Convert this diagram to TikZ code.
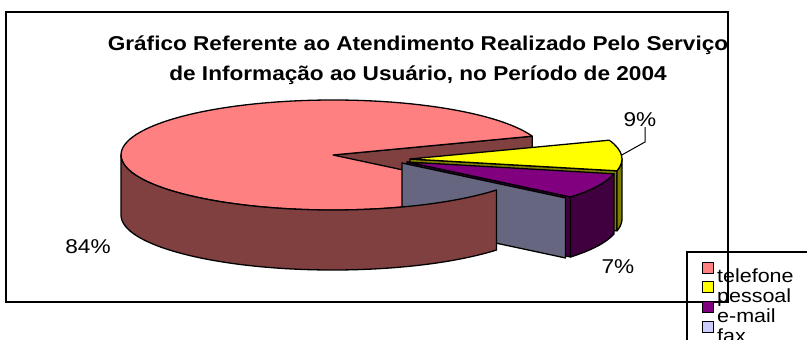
\documentclass[tikz,border=0pt]{standalone}
\usepackage{fontspec}
\setmainfont{Liberation Sans}
\usepackage{xcolor}
\usetikzlibrary{calc,positioning}
\definecolor{telTop}{HTML}{FF8080}
\definecolor{telSide}{HTML}{804040}
\definecolor{pesTop}{HTML}{FFFF00}
\definecolor{pesSide}{HTML}{808000}
\definecolor{emaTop}{HTML}{800080}
\definecolor{emaSide}{HTML}{400040}
\definecolor{faxTop}{HTML}{CCCCFF}
\definecolor{faxSide}{HTML}{666680}
\tikzset{
  slice/.style={draw=black, line width=1.3pt, line join=round},
  rim/.style={x radius=212, y radius=55},
  titletxt/.style={font=\fontsize{20}{24}\selectfont\bfseries, xscale=1.13, inner sep=0pt, anchor=base},
  pcttxt/.style={font=\fontsize{20}{24}\selectfont, xscale=1.13, inner sep=0pt, anchor=base},
  legsq/.style={draw=black, line width=0.9pt, minimum size=11pt, inner sep=0pt},
  legtxt/.style={font=\fontsize{19}{22}\selectfont, xscale=1.13, inner sep=0pt},
  frame/.style={draw=black, line width=1.4pt},
  leader/.style={draw=black, line width=1pt},
}

\begin{document}
\begin{tikzpicture}[x=1pt,y=-1pt]
    \useasboundingbox (0,0) rectangle (807,340);
    \coordinate (CTel) at (333,155);
    \coordinate (CPes) at (410,159);
    \coordinate (CEma) at (407,162);
    \coordinate (CFax) at (402,163);

    % telefone: back cut face and top
    \filldraw[slice, fill=telSide] (CTel) -- ++(340:212 and 55) -- ++(0,60) -- ($(CTel)+(0,60)$) -- cycle;
    \filldraw[slice, fill=telTop] (CTel) -- ++(39.5:212 and 55) arc[rim, start angle=39.5, end angle=340] -- cycle;

    % pessoal
    \filldraw[slice, fill=pesSide] (CPes) -- ++(12.4:212 and 55) -- ++(0,60) -- ($(CPes)+(0,60)$) -- cycle;
    \filldraw[slice, fill=pesSide] (CPes) ++(0:212 and 55) arc[rim, start angle=0, end angle=12.4] -- ++(0,60) arc[rim, start angle=12.4, end angle=0] -- cycle;
    \filldraw[slice, fill=pesTop] (CPes) -- ++(-20:212 and 55) arc[rim, start angle=-20, end angle=12.4] -- cycle;

    % e-mail
    \filldraw[slice, fill=emaSide] (CEma) -- ++(39.5:212 and 55) -- ++(0,60) -- ($(CEma)+(0,60)$) -- cycle;
    \filldraw[slice, fill=emaSide] (CEma) ++(12.4:212 and 55) arc[rim, start angle=12.4, end angle=39.5] -- ++(0,60) arc[rim, start angle=39.5, end angle=12.4] -- cycle;
    \filldraw[slice, fill=emaTop] (CEma) -- ++(12.4:212 and 55) arc[rim, start angle=12.4, end angle=39.5] -- cycle;

    % fax
    \filldraw[slice, fill=faxSide] (CFax) -- ++(39.5:212 and 55) -- ++(0,60) -- ($(CFax)+(0,60)$) -- cycle;

    % telefone: front side
    \filldraw[slice, fill=telSide] (CTel) ++(39.5:212 and 55) arc[rim, start angle=39.5, end angle=180] -- ++(0,60) arc[rim, start angle=180, end angle=39.5] -- cycle;

    \node[titletxt] (TitleTop) at (418,50) {Gráfico Referente ao Atendimento Realizado Pelo Serviço};
    \node[titletxt] (TitleBot) at (418,80) {de Informação ao Usuário, no Período de 2004};

    \node[pcttxt] (item84) at (88,253) {84\%};
    \node[pcttxt] (item07) at (618,273) {7\%};
    \node[pcttxt] (item09) at (640,126.7) {9\%};

    \coordinate (RimNine) at ($(CPes)+(-4:212 and 55)$);
    \coordinate (BendNine) at (645,142);
    \path[leader] (RimNine) -- (BendNine) -- (BendNine |- item09.south);

    \draw[frame] (6,12) rectangle (728,302);

    % legend
    \draw[frame, line width=1.2pt] (687,252) rectangle (810,343);
    \node[legsq, fill=telTop] at (707.5,267.5) (SqTel) {};
    \node[legsq, fill=pesTop, below=8pt of SqTel] (SqPes) {};
    \node[legsq, fill=emaTop, below=8pt of SqPes] (SqEma) {};
    \node[legsq, fill=faxTop, below=8pt of SqEma] (SqFax) {};
    \node[legtxt, right=3.5pt of SqTel.south east, anchor=base west, yshift=-9.5pt] (TxtTel) {telefone};
    \node[legtxt, right=3.5pt of SqPes.south east, anchor=base west, yshift=-9.5pt] (TxtPes) {pessoal};
    \node[legtxt, right=3.5pt of SqEma.south east, anchor=base west, yshift=-9.5pt] (TxtEma) {e-mail};
    \node[legtxt, right=3.5pt of SqFax.south east, anchor=base west, yshift=-9.5pt] (TxtFax) {fax};
\end{tikzpicture}
\end{document}
